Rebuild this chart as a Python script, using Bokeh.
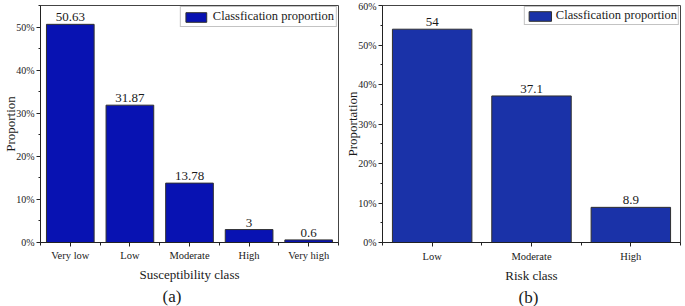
from bokeh.plotting import figure
from bokeh.models import (ColumnDataSource, FixedTicker, PrintfTickFormatter,
                          Range1d, LabelSet, Legend, LegendItem, Title)
from bokeh.layouts import row
from bokeh.embed import file_html
from bokeh.resources import INLINE

# ---- data ----
sus_classes = ["Very low", "Low", "Moderate", "High", "Very high"]
sus_values = [50.63, 31.87, 13.78, 3, 0.6]
risk_classes = ["Low", "Moderate", "High"]
risk_values = [54, 37.1, 8.9]
sus_yticks = [0, 10, 20, 30, 40, 50]
risk_yticks = [0, 10, 20, 30, 40, 50, 60]

FONT = "Liberation Serif"
TXT = "#1a1a1a"


def make_panel(classes, values, yticks, ymax, color, ylabel, xlabel, tag,
               width, border_left, border_right, border_bottom, tag_off,
               xtick_standoff, xlab_standoff, glyph_w, leg_pad, leg_standoff):
    n = len(classes)
    xs = [i + 0.5 for i in range(n)]
    src = ColumnDataSource(dict(x=xs, top=values,
                                lab=[f"{v:g}" for v in values]))
    p = figure(width=width, height=306, output_backend="svg",
               toolbar_location=None,
               x_range=Range1d(0, n), y_range=Range1d(0, ymax),
               min_border_left=border_left, min_border_right=border_right,
               min_border_top=5, min_border_bottom=border_bottom)
    p.grid.visible = False
    p.outline_line_color = "#444444"
    p.outline_line_width = 1
    p.background_fill_color = "white"
    p.border_fill_color = "white"

    r = p.vbar(x="x", top="top", width=0.8, source=src, fill_color=color,
               line_color="#303030", line_width=1)
    p.add_layout(LabelSet(x="x", y="top", text="lab", source=src,
                          text_align="center", text_baseline="bottom",
                          y_offset=3, text_font=FONT, text_font_size="13px",
                          text_color=TXT))

    # x axis
    xa = p.xaxis[0]
    xa.ticker = FixedTicker(ticks=xs, minor_ticks=list(range(n + 1)))
    xa.major_label_overrides = {x: c for x, c in zip(xs, classes)}
    xa.major_tick_in = 0
    xa.major_tick_out = 4
    xa.minor_tick_in = 0
    xa.minor_tick_out = 3
    xa.major_label_standoff = xtick_standoff
    xa.axis_label = xlabel
    xa.axis_label_standoff = xlab_standoff
    xa.major_label_text_font_size = "10.5px"
    # y axis
    ya = p.yaxis[0]
    ya.ticker = FixedTicker(ticks=yticks,
                            minor_ticks=[t + 5 for t in yticks])
    ya.formatter = PrintfTickFormatter(format="%d%%")
    ya.major_tick_in = 0
    ya.major_tick_out = 4
    ya.minor_tick_in = 0
    ya.minor_tick_out = 2
    ya.major_label_standoff = 2
    ya.axis_label = ylabel
    ya.axis_label_standoff = -5
    ya.major_label_text_font_size = "10px"
    for ax in (xa, ya):
        ax.axis_line_color = "#222222"
        ax.major_tick_line_color = "#222222"
        ax.minor_tick_line_color = "#222222"
        ax.major_label_text_font = FONT
        ax.major_label_text_color = TXT
        ax.axis_label_text_font = FONT
        ax.axis_label_text_font_size = "13px"
        ax.axis_label_text_font_style = "normal"
        ax.axis_label_text_color = TXT

    leg = Legend(items=[LegendItem(label="Classfication proportion",
                                   renderers=[r])],
                 location="top_right", margin=1, padding=leg_pad,
                 spacing=0, glyph_width=glyph_w, glyph_height=12,
                 label_height=12, label_standoff=leg_standoff,
                 label_text_font=FONT, label_text_font_size="12.5px",
                 label_text_color=TXT, border_line_color="#888888",
                 border_line_width=1, background_fill_alpha=1)
    p.add_layout(leg)

    p.add_layout(Title(text=tag, align="left", offset=tag_off, standoff=0,
                       text_font=FONT, text_font_size="17px",
                       text_font_style="normal", text_color=TXT), "below")
    return p


pa = make_panel(sus_classes, sus_values, sus_yticks, 55, "#0812b2",
                "Proportion", "Susceptibility class", "(a)",
                width=340, border_left=40, border_right=2, border_bottom=63,
                tag_off=122, xtick_standoff=3, xlab_standoff=3,
                glyph_w=26, leg_pad=2, leg_standoff=4)
pb = make_panel(risk_classes, risk_values, risk_yticks, 60, "#1a32a8",
                "Proportation", "Risk class", "(b)",
                width=345, border_left=42, border_right=5, border_bottom=61,
                tag_off=136, xtick_standoff=4, xlab_standoff=3,
                glyph_w=28, leg_pad=1, leg_standoff=2)

layout = row(pa, pb, spacing=0)
open("out.html", "w").write(file_html(layout, INLINE))
